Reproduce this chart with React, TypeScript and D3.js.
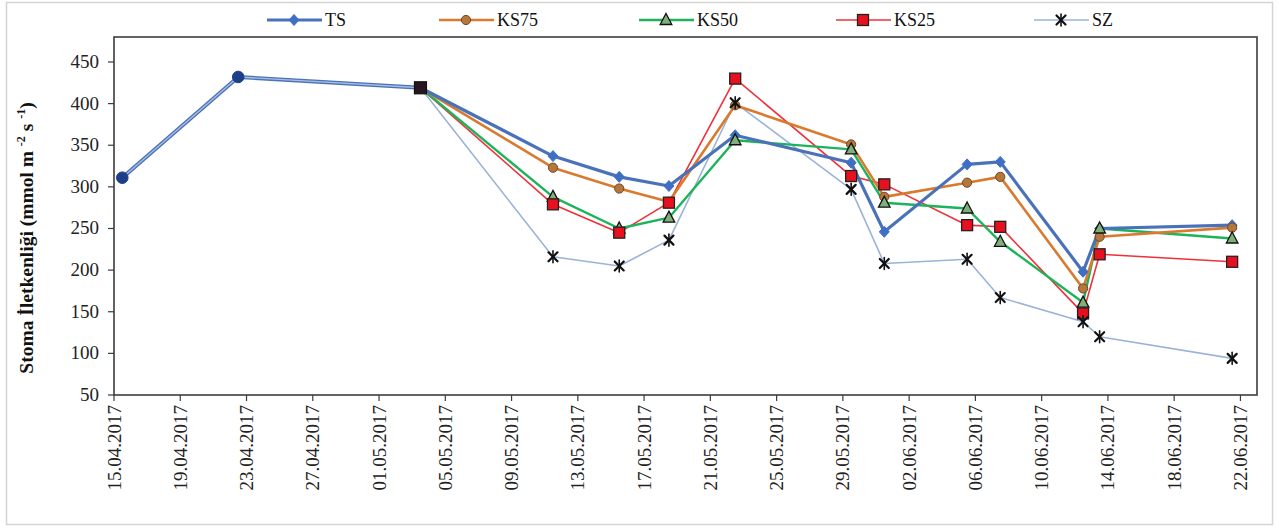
import React from "react";
import * as d3 from "d3";

// Stomatal conductance measurements, 2017 season
const startDates = ["15.04.2017", "22.04.2017", "03.05.2017"];
const startValues = [311, 432, 419];

const dates = [
  "03.05.2017", "11.05.2017", "15.05.2017", "18.05.2017", "22.05.2017", "29.05.2017",
  "31.05.2017", "05.06.2017", "07.06.2017", "12.06.2017", "13.06.2017", "21.06.2017",
];
const tsValues = [419, 337, 312, 301, 362, 329, 246, 327, 330, 198, 250, 254];
const ks75Values = [419, 323, 298, 282, 398, 351, 288, 305, 312, 178, 240, 251];
const ks50Values = [419, 288, 250, 263, 356, 345, 281, 274, 234, 161, 250, 238];
const ks25Values = [419, 279, 245, 281, 430, 313, 303, 254, 252, 148, 219, 210];
const szValues = [419, 216, 205, 236, 401, 297, 208, 213, 167, 138, 120, 94];

const yTicks = [50, 100, 150, 200, 250, 300, 350, 400, 450];
const xTickLabels = [
  "15.04.2017", "19.04.2017", "23.04.2017", "27.04.2017", "01.05.2017", "05.05.2017",
  "09.05.2017", "13.05.2017", "17.05.2017", "21.05.2017", "25.05.2017", "29.05.2017",
  "02.06.2017", "06.06.2017", "10.06.2017", "14.06.2017", "18.06.2017", "22.06.2017",
];
const axisStart = "15.04.2017";
const axisEnd = "23.06.2017";

type Shape = "diamond" | "circle" | "triangle" | "square" | "star";
interface Series {
  name: string;
  values: number[];
  stroke: string;
  width: number;
  shape: Shape;
  fill: string;
  outline: string;
}

const series: Series[] = [
  { name: "TS", values: tsValues, stroke: "#4a72b8", width: 3.2, shape: "diamond", fill: "#3f6fc4", outline: "#3f6fc4" },
  { name: "KS75", values: ks75Values, stroke: "#d97a2e", width: 2.6, shape: "circle", fill: "#b8773a", outline: "#6b4a2a" },
  { name: "KS50", values: ks50Values, stroke: "#1db35a", width: 2.4, shape: "triangle", fill: "#7fb07a", outline: "#111" },
  { name: "KS25", values: ks25Values, stroke: "#f0303a", width: 1.6, shape: "square", fill: "#e8101e", outline: "#222" },
  { name: "SZ", values: szValues, stroke: "#9bb3d8", width: 1.6, shape: "star", fill: "#111", outline: "#111" },
];

const parse = d3.utcParse("%d.%m.%Y");
const mid = (s: string) => d3.utcHour.offset(parse(s) as Date, 12);

const W = 1279;
const H = 529;
const plot = { left: 114, right: 1257, top: 37, bottom: 395 };

const x = d3.scaleUtc().domain([parse(axisStart) as Date, parse(axisEnd) as Date]).range([plot.left, plot.right]);
const y = d3.scaleLinear().domain([50, 480]).range([plot.bottom, plot.top]);

function Marker({ shape, cx, cy, fill, outline }: { shape: Shape; cx: number; cy: number; fill: string; outline: string }) {
  switch (shape) {
    case "diamond":
      return <path d={`M${cx},${cy - 5.5}L${cx + 5},${cy}L${cx},${cy + 5.5}L${cx - 5},${cy}Z`} fill={fill} stroke={outline} strokeWidth={1} />;
    case "circle":
      return <circle cx={cx} cy={cy} r={4.6} fill={fill} stroke={outline} strokeWidth={1} />;
    case "triangle":
      return <path d={`M${cx},${cy - 6.5}L${cx + 5.8},${cy + 4.5}L${cx - 5.8},${cy + 4.5}Z`} fill={fill} stroke={outline} strokeWidth={1.3} />;
    case "square":
      return <rect x={cx - 5.5} y={cy - 5.5} width={11} height={11} fill={fill} stroke={outline} strokeWidth={1.3} />;
    case "star":
      return (
        <g stroke={outline} strokeWidth={2.2} strokeLinecap="round">
          <line x1={cx - 4.5} y1={cy - 4.5} x2={cx + 4.5} y2={cy + 4.5} />
          <line x1={cx - 4.5} y1={cy + 4.5} x2={cx + 4.5} y2={cy - 4.5} />
          <line x1={cx} y1={cy - 6} x2={cx} y2={cy + 6} strokeWidth={1.6} />
        </g>
      );
  }
}

export default function App() {
  const line = d3
    .line<[Date, number]>()
    .x((d) => x(d[0]))
    .y((d) => y(d[1]));

  const startPts: [Date, number][] = startDates.map((d, i) => [mid(d), startValues[i]]);
  const ptsOf = (s: Series): [Date, number][] => dates.map((d, i) => [mid(d), s.values[i]]);

  const legendX = [267, 439, 639, 836, 1034];
  const serif = "'Liberation Serif', 'Times New Roman', serif";

  return (
    <svg width={W} height={H} style={{ position: "absolute", left: 0, top: 0, background: "#fff" }} fontFamily={serif}>
      {/* outer chart frame */}
      <rect x={6.5} y={2.5} width={1266} height={522} fill="#fff" stroke="#d4d4d4" strokeWidth={1.5} />

      {/* legend */}
      {series.map((s, i) => {
        const lx = legendX[i];
        return (
          <g key={s.name}>
            <line x1={lx} y1={20} x2={lx + 55} y2={20} stroke={s.stroke} strokeWidth={s.width} />
            <Marker shape={s.shape} cx={lx + 27} cy={20} fill={s.fill} outline={s.outline} />
            <text x={lx + 58} y={26} fontSize={18} fill="#111">{s.name}</text>
          </g>
        );
      })}

      {/* plot frame */}
      <rect x={plot.left} y={plot.top} width={plot.right - plot.left} height={plot.bottom - plot.top} fill="none" stroke="#3c3c3c" strokeWidth={1.6} />

      {/* y axis */}
      {yTicks.map((t) => (
        <g key={t}>
          <line x1={plot.left - 6} x2={plot.left} y1={y(t)} y2={y(t)} stroke="#3c3c3c" strokeWidth={1.2} />
          <text x={plot.left - 15} y={y(t) + 6} textAnchor="end" fontSize={19} fill="#222">{t}</text>
        </g>
      ))}
      <text
        transform={`translate(33, ${(plot.top + plot.bottom) / 2 + 22}) rotate(-90)`}
        textAnchor="middle"
        fontSize={19.5}
        fontWeight="bold"
        fill="#111"
      >
        Stoma İletkenliği (mmol m <tspan fontSize={12} dy={-8}>-2</tspan>
        <tspan dy={8}> s </tspan>
        <tspan fontSize={12} dy={-8}>-1</tspan>
        <tspan dy={8}>)</tspan>
      </text>

      {/* x axis */}
      {xTickLabels.map((lbl) => {
        const tx = x(parse(lbl) as Date);
        return (
          <g key={lbl}>
            <line x1={tx} x2={tx} y1={plot.bottom} y2={plot.bottom + 6} stroke="#3c3c3c" strokeWidth={1.2} />
            <text
              transform={`translate(${tx + 6.5}, ${plot.bottom + 10}) rotate(-90)`}
              textAnchor="end"
              fontSize={19}
              fill="#222"
            >
              {lbl}
            </text>
          </g>
        );
      })}

      {/* shared early measurements */}
      <path d={line(startPts) ?? ""} fill="none" stroke="#4a72b8" strokeWidth={4} />
      <path d={line(startPts) ?? ""} fill="none" stroke="#a7bde0" strokeWidth={1.4} />

      {/* series lines */}
      {[...series].reverse().map((s) => (
        <path key={s.name} d={line(ptsOf(s)) ?? ""} fill="none" stroke={s.stroke} strokeWidth={s.width} strokeLinejoin="round" />
      ))}

      {/* series markers */}
      {series.map((s) => (
        <g key={s.name}>
          {ptsOf(s).slice(1).map((p, i) => (
            <Marker key={i} shape={s.shape} cx={x(p[0])} cy={y(p[1])} fill={s.fill} outline={s.outline} />
          ))}
        </g>
      ))}

      {/* shared markers */}
      {startPts.slice(0, 2).map((p, i) => (
        <circle key={i} cx={x(p[0])} cy={y(p[1])} r={5.8} fill="#1d3f8a" stroke="#1d3f8a" />
      ))}
      <rect x={x(startPts[2][0]) - 6} y={y(startPts[2][1]) - 6} width={12} height={12} fill="#2a1620" stroke="#111" strokeWidth={1.2} />
    </svg>
  );
}
